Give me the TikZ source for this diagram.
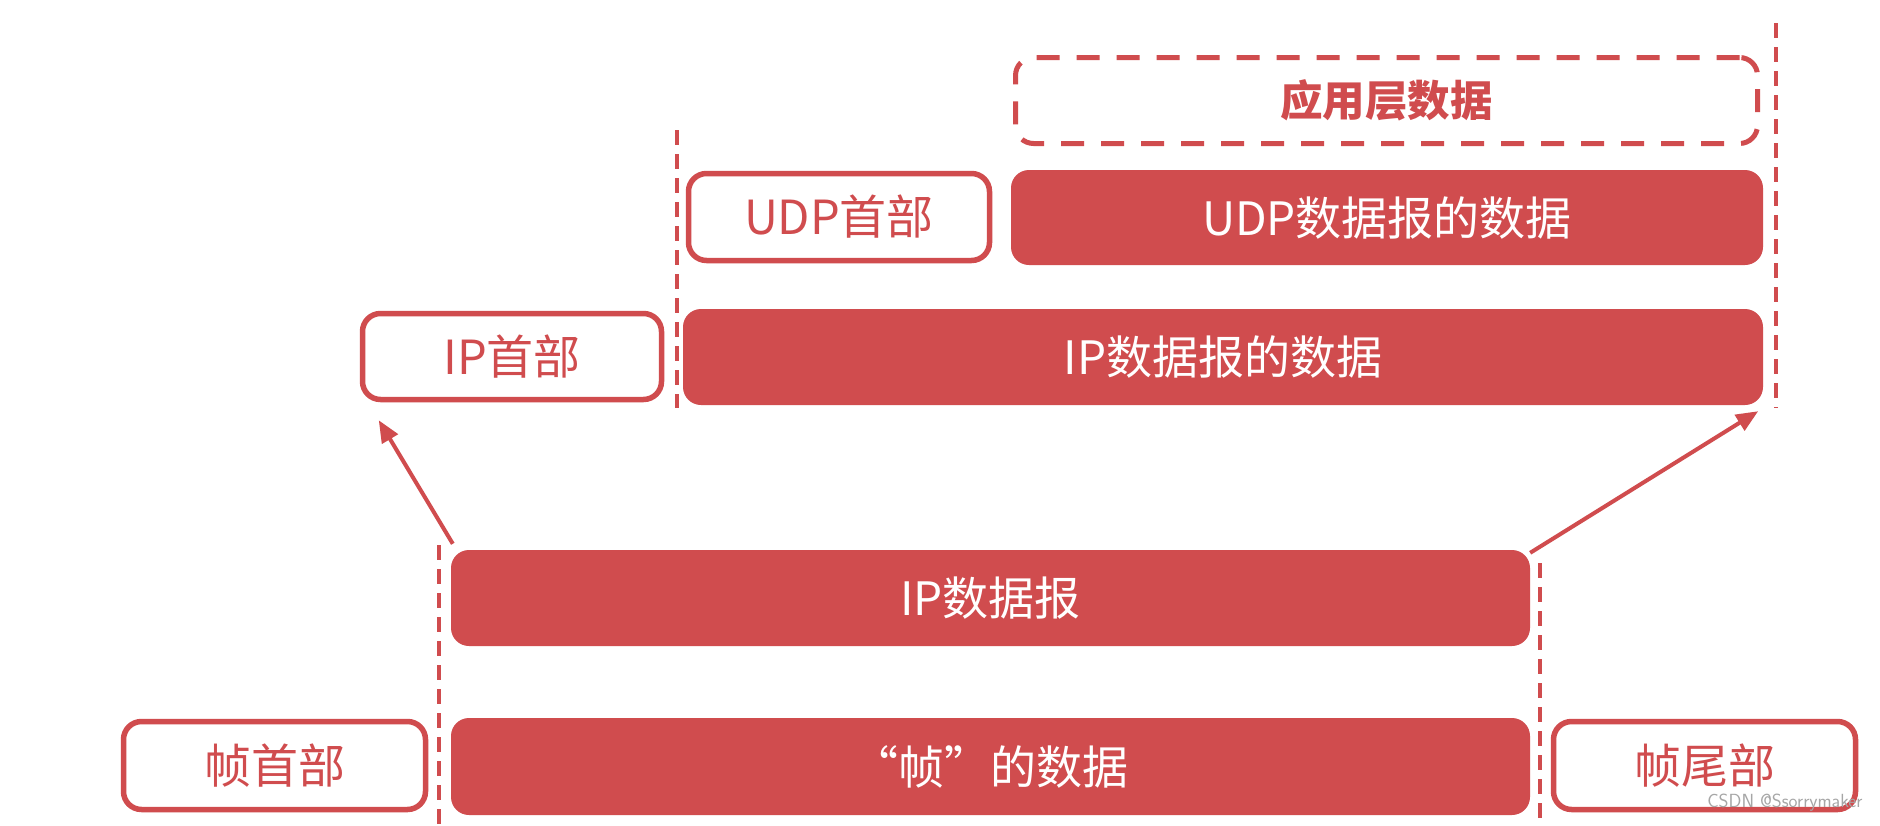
\documentclass[tikz,border=0pt]{standalone}
\usepackage{fontspec}
\newfontfamily\cjk{Noto Sans CJK SC}
\usetikzlibrary{arrows.meta}
\definecolor{rd}{RGB}{208,76,78}
\begin{document}
\begin{tikzpicture}[x=1pt,y=-1pt,
  filledbox/.style={rectangle,rounded corners=18pt,fill=rd,text=white,inner sep=0pt,font=\cjk\fontsize{46}{50}\selectfont},
  outlinebox/.style={rectangle,rounded corners=18pt,draw=rd,line width=5.5pt,fill=white,text=rd,inner sep=0pt,font=\cjk\fontsize{47}{51}\selectfont},
  appbox/.style={rectangle,rounded corners=18pt,draw=rd,line width=5pt,dash pattern=on 23pt off 17pt,text=rd,inner sep=0pt,font=\cjk\bfseries\fontsize{42.5}{46}\selectfont},
  guide/.style={draw=rd,line width=3.5pt,dash pattern=on 15pt off 9pt},
  arr/.style={draw=rd,line width=4pt,-{Triangle[length=22pt,width=18pt]}}]
\useasboundingbox (0,0) rectangle (1880,825);
\fill[white] (0,0) rectangle (1880,825);
% guide lines
\coordinate (g1a) at (677,130); \coordinate (g1b) at (677,408);
\coordinate (g2a) at (1776,23); \coordinate (g2b) at (1776,408);
\coordinate (g3a) at (439,545); \coordinate (g3b) at (439,825);
\coordinate (g4a) at (1540,563); \coordinate (g4b) at (1540,825);
\draw[guide] (g1a) -- (g1b);
\draw[guide] (g2a) -- (g2b);
\draw[guide] (g3a) -- (g3b);
\draw[guide] (g4a) -- (g4b);
% boxes
\node[appbox,minimum width=742pt,minimum height=86pt] (app) at (1386.5,100.5) {应用层数据};
\node[outlinebox,minimum width=301pt,minimum height=87pt] (udph) at (839,217) {UDP首部};
\node[filledbox,minimum width=752pt,minimum height=95pt] (udpd) at (1387,217.5) {UDP数据报的数据};
\node[outlinebox,minimum width=299pt,minimum height=86pt] (iph) at (512,356.5) {IP首部};
\node[filledbox,minimum width=1080pt,minimum height=96pt] (ipd) at (1223,357) {IP数据报的数据};
\node[filledbox,minimum width=1079pt,minimum height=96pt] (ip) at (990.5,598) {IP数据报};
\node[outlinebox,minimum width=302pt,minimum height=88pt] (fh) at (274.5,765.5) {帧首部};
\node[filledbox,minimum width=1079pt,minimum height=97pt] (fd) at (990.5,766.5) {“帧”的数据};
\node[outlinebox,minimum width=302pt,minimum height=88pt] (ft) at (1704.5,765.5) {帧尾部};
% arrows
\draw[arr] ([xshift=2pt,yshift=6pt]ip.north west) -- ([xshift=19pt,yshift=-18pt]iph.south west);
\draw[arr] ([yshift=-3pt]ip.north east) -- ([xshift=-5pt,yshift=-6pt]ipd.south east);
% watermark
\node[text=black!35,font=\sffamily\fontsize{19}{21}\selectfont,anchor=east] (wm) at (1866,803) {CSDN @Ssorrymaker};
\end{tikzpicture}
\end{document}
